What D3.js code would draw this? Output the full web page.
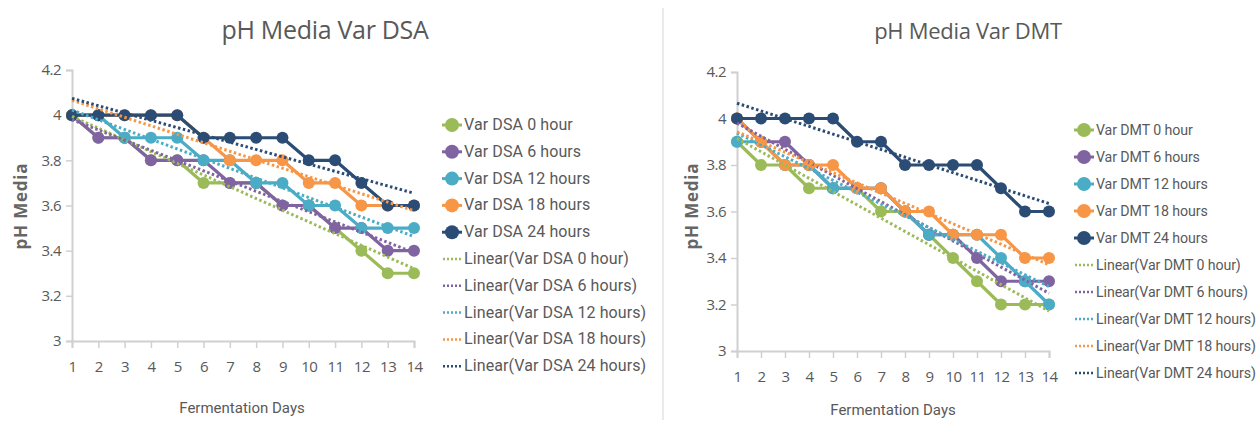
<!DOCTYPE html>
<html>
<head>
<meta charset="utf-8">
<script src="https://cdn.jsdelivr.net/npm/d3@7"></script>
<style>
  body { margin: 0; background: #fff; }
  svg { display: block; }
  text { font-family: Roboto, "Liberation Sans", sans-serif; fill: #595959; }
</style>
</head>
<body>
<div id="chart"></div>
<script>
// ---- data ----
var days = [1, 2, 3, 4, 5, 6, 7, 8, 9, 10, 11, 12, 13, 14];
var yTicks = [3, 3.2, 3.4, 3.6, 3.8, 4, 4.2];
var colors = ['#9bbb59', '#8064a2', '#4bacc6', '#f79646', '#2b4c74'];

var dsaNames = ['Var DSA 0 hour', 'Var DSA 6 hours', 'Var DSA 12 hours', 'Var DSA 18 hours', 'Var DSA 24 hours'];
var dsa0h  = [4, 3.9, 3.9, 3.8, 3.8, 3.7, 3.7, 3.7, 3.6, 3.6, 3.5, 3.4, 3.3, 3.3];
var dsa6h  = [4, 3.9, 3.9, 3.8, 3.8, 3.8, 3.7, 3.7, 3.6, 3.6, 3.5, 3.5, 3.4, 3.4];
var dsa12h = [4, 4, 3.9, 3.9, 3.9, 3.8, 3.8, 3.7, 3.7, 3.6, 3.6, 3.5, 3.5, 3.5];
var dsa18h = [4, 4, 4, 4, 4, 3.9, 3.8, 3.8, 3.8, 3.7, 3.7, 3.6, 3.6, 3.6];
var dsa24h = [4, 4, 4, 4, 4, 3.9, 3.9, 3.9, 3.9, 3.8, 3.8, 3.7, 3.6, 3.6];

var dmtNames = ['Var DMT 0 hour', 'Var DMT 6 hours', 'Var DMT 12 hours', 'Var DMT 18 hours', 'Var DMT 24 hours'];
var dmt0h  = [3.9, 3.8, 3.8, 3.7, 3.7, 3.7, 3.6, 3.6, 3.5, 3.4, 3.3, 3.2, 3.2, 3.2];
var dmt6h  = [4, 3.9, 3.9, 3.8, 3.7, 3.7, 3.7, 3.6, 3.5, 3.5, 3.4, 3.3, 3.3, 3.3];
var dmt12h = [3.9, 3.9, 3.8, 3.8, 3.7, 3.7, 3.7, 3.6, 3.5, 3.5, 3.5, 3.4, 3.3, 3.2];
var dmt18h = [4, 3.9, 3.8, 3.8, 3.8, 3.7, 3.7, 3.6, 3.6, 3.5, 3.5, 3.5, 3.4, 3.4];
var dmt24h = [4, 4, 4, 4, 4, 3.9, 3.9, 3.8, 3.8, 3.8, 3.8, 3.7, 3.6, 3.6];

var svg = d3.select('#chart').append('svg')
  .attr('width', 1260)
  .attr('height', 428);

// divider between the two charts
svg.append('line')
  .attr('x1', 663).attr('x2', 663)
  .attr('y1', 8).attr('y2', 420)
  .style('stroke', '#e3e3e3')
  .style('stroke-width', 1.5);

// least squares line through one series
function linearFit(xs, ys) {
  var mx = d3.mean(xs), my = d3.mean(ys);
  var sxy = d3.sum(xs, function(x, i) { return (x - mx) * (ys[i] - my); });
  var sxx = d3.sum(xs, function(x) { return (x - mx) * (x - mx); });
  var b = sxy / sxx;
  return function(x) { return my + b * (x - mx); };
}

function drawPanel(cfg) {
  var x = d3.scaleLinear().domain([1, 14]).range(cfg.xRange);
  var y = d3.scaleLinear().domain([3, 4.2]).range(cfg.yRange);
  var g = svg.append('g');

  // title
  g.append('text')
    .attr('x', cfg.titleX).attr('y', 39)
    .attr('text-anchor', 'middle')
    .style('font-size', cfg.titleSize + 'px')
    .style('font-family', '"Open Sans", sans-serif')
    .style('letter-spacing', '-0.3px')
    .text(cfg.title);

  // axes
  var xAxis = g.append('g')
    .attr('transform', 'translate(0,' + cfg.yRange[0] + ')')
    .call(d3.axisBottom(x).tickValues(days).tickFormat(d3.format('d')).tickSize(7).tickPadding(13));
  var yAxis = g.append('g')
    .attr('transform', 'translate(' + cfg.xRange[0] + ',0)')
    .call(d3.axisLeft(y).tickValues(yTicks).tickFormat(function(d) { return d3.format('')(d); }).tickSize(6).tickPadding(5));

  [xAxis, yAxis].forEach(function(a) {
    a.select('.domain').style('stroke', '#d0d0d0').style('stroke-width', 2);
    a.selectAll('.tick line').style('stroke', '#d0d0d0').style('stroke-width', 1.5);
    a.selectAll('.tick text')
      .style('font-size', '15px')
      .style('font-family', '"Open Sans", sans-serif')
      .style('letter-spacing', '-0.5px')
      .style('fill', '#595959');
  });

  // axis titles
  g.append('text')
    .attr('x', cfg.xLabelX).attr('y', cfg.xLabelY)
    .attr('text-anchor', 'middle')
    .style('font-size', '15px')
    .text('Fermentation Days');
  g.append('text')
    .attr('transform', 'translate(' + cfg.yLabelX + ',' + cfg.yLabelY + ') rotate(-90)')
    .attr('text-anchor', 'middle')
    .style('font-size', '17px')
    .style('font-weight', 'bold')
    .style('letter-spacing', '0.8px')
    .style('font-family', '"Open Sans", sans-serif')
    .style('fill', '#666')
    .text('pH Media');

  var line = d3.line()
    .x(function(d, i) { return x(days[i]); })
    .y(function(d) { return y(d); });

  // data series
  cfg.series.forEach(function(s, k) {
    g.append('path')
      .datum(s)
      .attr('d', line)
      .style('fill', 'none')
      .style('stroke', colors[k])
      .style('stroke-width', 3.2)
      .style('stroke-linejoin', 'round');
    g.selectAll('.pt' + k)
      .data(s)
      .enter().append('circle')
      .attr('cx', function(d, i) { return x(days[i]); })
      .attr('cy', function(d) { return y(d); })
      .attr('r', 6)
      .style('fill', colors[k]);
  });

  // linear trendlines
  cfg.series.forEach(function(s, k) {
    var f = linearFit(days, s);
    g.append('line')
      .attr('x1', x(1)).attr('y1', y(f(1)))
      .attr('x2', x(14)).attr('y2', y(f(14)))
      .style('stroke', colors[k])
      .style('stroke-width', 3)
      .style('stroke-dasharray', '2.5,2.5');
  });

  // legend
  var leg = g.append('g');
  cfg.names.forEach(function(n, k) {
    var ly = cfg.legY + k * cfg.legStep;
    leg.append('line')
      .attr('x1', cfg.legX - 10).attr('x2', cfg.legX + 10)
      .attr('y1', ly).attr('y2', ly)
      .style('stroke', colors[k]).style('stroke-width', 3);
    leg.append('circle')
      .attr('cx', cfg.legX).attr('cy', ly).attr('r', 7)
      .style('fill', colors[k]);
    leg.append('text')
      .attr('x', cfg.legX + 12).attr('y', ly + 5)
      .style('font-size', cfg.legSize + 'px')
      .style('letter-spacing', cfg.legSpacing + 'px')
      .text(n);
  });
  cfg.names.forEach(function(n, k) {
    var ly = cfg.legY + (k + 5) * cfg.legStep;
    leg.append('line')
      .attr('x1', cfg.legX - 9).attr('x2', cfg.legX + 10)
      .attr('y1', ly).attr('y2', ly)
      .style('stroke', colors[k]).style('stroke-width', 2.5)
      .style('stroke-dasharray', '2,2');
    leg.append('text')
      .attr('x', cfg.legX + 12).attr('y', ly + 5)
      .style('font-size', cfg.legSize + 'px')
      .style('letter-spacing', cfg.legSpacing + 'px')
      .text('Linear(' + n + ')');
  });
}

drawPanel({
  title: 'pH Media Var DSA', titleX: 325, titleSize: 25,
  xRange: [72, 414], yRange: [341, 70],
  xLabelX: 242, xLabelY: 413,
  yLabelX: 27, yLabelY: 206,
  legX: 452, legY: 125, legStep: 26.8, legSize: 16, legSpacing: 0.1,
  names: dsaNames,
  series: [dsa0h, dsa6h, dsa12h, dsa18h, dsa24h]
});

drawPanel({
  title: 'pH Media Var DMT', titleX: 968, titleSize: 22,
  xRange: [737, 1049], yRange: [351, 72],
  xLabelX: 893, xLabelY: 415,
  yLabelX: 698, yLabelY: 206,
  legX: 1084, legY: 130, legStep: 27, legSize: 14.2, legSpacing: -0.1,
  names: dmtNames,
  series: [dmt0h, dmt6h, dmt12h, dmt18h, dmt24h]
});
</script>
</body>
</html>
